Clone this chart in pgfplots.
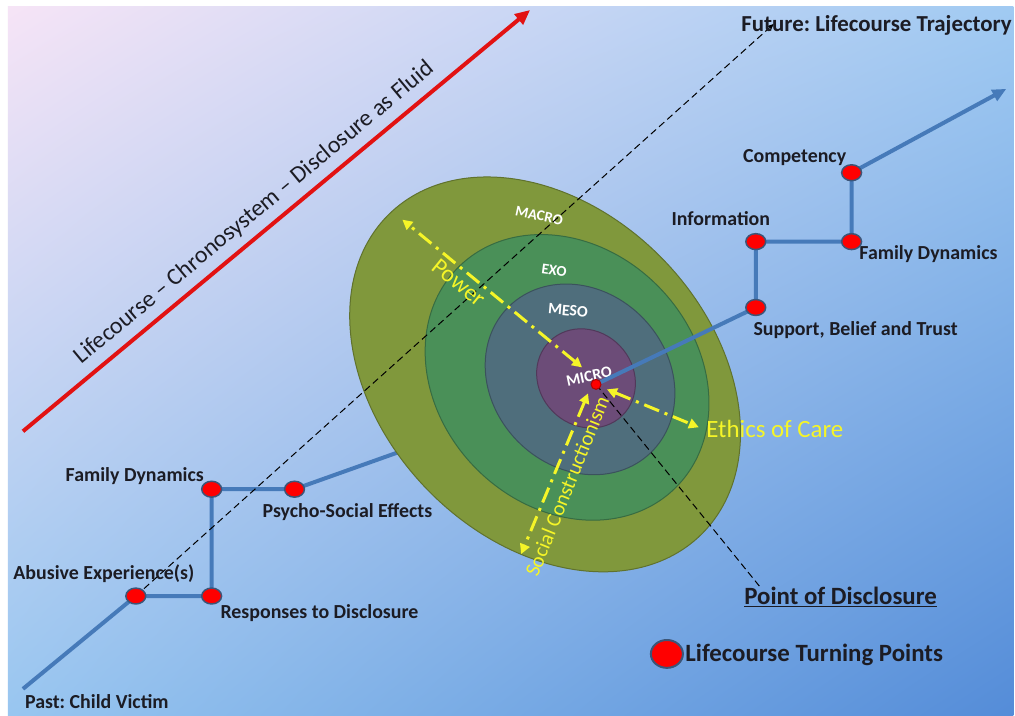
\documentclass[border=0pt]{standalone}
\usepackage{pgfplots}
\pgfplotsset{compat=1.18}
\usepackage{fontspec}
\setmainfont{Carlito}
\usetikzlibrary{arrows.meta,shadings}

\definecolor{trajblue}{RGB}{70,122,185}
\definecolor{macro}{RGB}{128,152,60}
\definecolor{exo}{RGB}{74,144,88}
\definecolor{meso}{RGB}{79,110,124}
\definecolor{micro}{RGB}{108,76,120}
\definecolor{tpedge}{RGB}{60,85,120}
\definecolor{yel}{RGB}{245,245,40}
\definecolor{ink}{RGB}{28,28,36}
\definecolor{chrono}{RGB}{226,18,18}
\definecolor{bgul}{RGB}{246,228,246}
\definecolor{bgur}{RGB}{160,202,242}
\definecolor{bgll}{RGB}{152,198,240}
\definecolor{bglr}{RGB}{84,140,216}

\newcommand{\lab}{\bfseries\fontsize{20}{23}\selectfont}
\frenchspacing

\begin{document}
\begin{tikzpicture}
\begin{axis}[
  width=1015bp, height=717bp, scale only axis,
  xmin=0, xmax=1015, ymin=0, ymax=717, y dir=reverse,
  axis line style={draw=none}, ticks=none, clip=false,
]
% background
\fill[white] (axis cs:0,0) rectangle (axis cs:1015,717);
\shade[upper left=bgul, upper right=bgur, lower left=bgll, lower right=bglr]
  (axis cs:8,7) rectangle (axis cs:1015,717);

% chronosystem arrow
\addplot[chrono, line width=4bp, -{Triangle[length=15bp,width=13bp]}] coordinates {(23,432) (531,10)};
\node[ink, rotate=39.7, font=\fontsize{24}{28}\selectfont] at (axis cs:255,213)
  {Lifecourse -- Chronosystem -- Disclosure as Fluid};

% trajectory before disclosure (runs under the circles)
\addplot[trajblue, line width=4bp] coordinates {(23,690) (136,597) (212,597) (212,490) (295,490) (590,385)};

% ecological systems
\fill[macro, draw=macro!75!black, line width=1bp, rotate around={-46:(axis cs:546,375)}]
  (axis cs:546,375) ellipse [x radius=224bp, y radius=165bp];
\fill[exo, draw=exo!75!black, line width=1bp, rotate around={-46:(axis cs:568,378)}]
  (axis cs:568,378) ellipse [x radius=155bp, y radius=129bp];
\fill[meso, draw=meso!75!black, line width=1bp, rotate around={-46:(axis cs:581,380)}]
  (axis cs:581,380) ellipse [x radius=102bp, y radius=88bp];
\fill[micro, draw=micro!75!black, line width=1bp, rotate around={-46:(axis cs:587,379)}]
  (axis cs:587,379) ellipse [x radius=52bp, y radius=47bp];

\node[white, rotate=-12, font=\bfseries\fontsize{15}{17}\selectfont] at (axis cs:540,216) {MACRO};
\node[white, rotate=-8, font=\bfseries\fontsize{15}{17}\selectfont] at (axis cs:555,271) {EXO};
\node[white, rotate=-5, font=\bfseries\fontsize{16}{18}\selectfont] at (axis cs:569,311) {MESO};
\node[white, rotate=12, font=\bfseries\fontsize{16}{18}\selectfont] at (axis cs:590,377) {MICRO};

% dashed guides
\addplot[black, line width=1bp, dash pattern=on 7bp off 4bp, -{Stealth[length=7bp,width=6bp]}] coordinates {(136,597) (775,24)};
\addplot[black, line width=1bp, dash pattern=on 7bp off 4bp] coordinates {(597,385) (763,590)};

% trajectory after disclosure
\addplot[trajblue, line width=4bp, -{Triangle[length=14bp,width=12bp]}] coordinates {(597,385) (757,308) (757,242) (853,242) (853,173) (1008,89)};

% theory axes
\addplot[yel, line width=3bp, dash pattern=on 16bp off 6bp on 3bp off 6bp,
  {Triangle[length=10bp,width=10bp]}-{Triangle[length=10bp,width=10bp]}] coordinates {(583,368) (403,220)};
\addplot[yel, line width=3bp, dash pattern=on 16bp off 6bp on 3bp off 6bp,
  {Triangle[length=10bp,width=10bp]}-{Triangle[length=10bp,width=10bp]}] coordinates {(608,390) (700,428)};
\addplot[yel, line width=3bp, dash pattern=on 16bp off 6bp on 3bp off 6bp,
  {Triangle[length=10bp,width=10bp]}-{Triangle[length=10bp,width=10bp]}] coordinates {(589,394) (522,555)};
\node[yel, rotate=-39, font=\fontsize{24}{27}\selectfont] at (axis cs:460,283) {Power};
\node[yel, anchor=west, font=\fontsize{25}{28}\selectfont] at (axis cs:704,430) {Ethics of Care};
\node[yel, rotate=68, font=\fontsize{21}{24}\selectfont] at (axis cs:568,487) {Social Constructionism};

% turning points
\addplot[only marks, mark=*, mark size=8, mark options={fill=red, draw=tpedge, line width=1.5bp, xscale=1.25}]
  coordinates {(136,597) (212,597) (212,490) (295,490) (757,308) (757,242) (853,242) (853,173)};
\addplot[only marks, mark=*, mark size=5, mark options={fill=red, draw=red!70!black, line width=1bp}]
  coordinates {(597,385)};
\addplot[only marks, mark=*, mark size=14, mark options={fill=red, draw=tpedge, line width=2bp, xscale=1.15}]
  coordinates {(668,655)};

% labels
\node[ink, font=\bfseries\fontsize{23}{26}\selectfont] at (axis cs:878,25) {Future: Lifecourse Trajectory};
\node[ink, font=\lab] at (axis cs:796,158) {Competency};
\node[ink, font=\lab] at (axis cs:722,219) {Information};
\node[ink, font=\lab] at (axis cs:930,255) {Family Dynamics};
\node[ink, font=\lab] at (axis cs:857,331) {Support, Belief and Trust};
\node[ink, font=\lab] at (axis cs:135,477) {Family Dynamics};
\node[ink, font=\lab] at (axis cs:348,513) {Psycho-Social Effects};
\node[ink, font=\lab] at (axis cs:104,575) {Abusive Experience(s)};
\node[ink, font=\lab] at (axis cs:320,614) {Responses to Disclosure};
\node[ink, font=\lab] at (axis cs:97,703) {Past: Child Victim};
\node[ink, font=\bfseries\fontsize{25}{28}\selectfont] at (axis cs:842,598) {\underline{Point of Disclosure}};
\node[ink, anchor=west, font=\bfseries\fontsize{25}{28}\selectfont] at (axis cs:683,656) {Lifecourse Turning Points};
\end{axis}
\end{tikzpicture}
\end{document}
